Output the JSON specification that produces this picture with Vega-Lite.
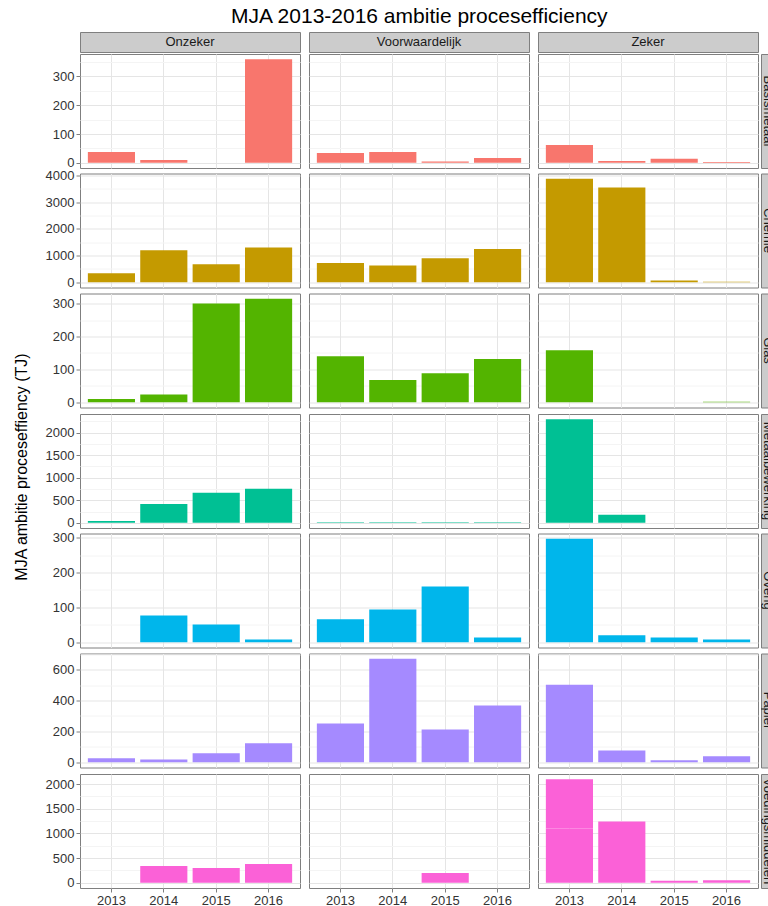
{
  "$schema": "https://vega.github.io/schema/vega-lite/v6.json",
  "padding": {"left": 14, "top": 5, "right": 0, "bottom": 0},
  "title": {"text": "MJA 2013-2016 ambitie procesefficiency", "fontSize": 21, "font": "Liberation Sans", "fontWeight": "normal", "anchor": "middle", "offset": 5, "dx": 28, "color": "#000000"},
  "data": {"values": [
    {"Sector": "Basismetaal", "Status": "Onzeker", "Year": "2013", "TJ": 38},
    {"Sector": "Basismetaal", "Status": "Onzeker", "Year": "2014", "TJ": 10},
    {"Sector": "Basismetaal", "Status": "Onzeker", "Year": "2015", "TJ": 0},
    {"Sector": "Basismetaal", "Status": "Onzeker", "Year": "2016", "TJ": 360},
    {"Sector": "Basismetaal", "Status": "Voorwaardelijk", "Year": "2013", "TJ": 34},
    {"Sector": "Basismetaal", "Status": "Voorwaardelijk", "Year": "2014", "TJ": 38},
    {"Sector": "Basismetaal", "Status": "Voorwaardelijk", "Year": "2015", "TJ": 5},
    {"Sector": "Basismetaal", "Status": "Voorwaardelijk", "Year": "2016", "TJ": 17},
    {"Sector": "Basismetaal", "Status": "Zeker", "Year": "2013", "TJ": 62},
    {"Sector": "Basismetaal", "Status": "Zeker", "Year": "2014", "TJ": 6},
    {"Sector": "Basismetaal", "Status": "Zeker", "Year": "2015", "TJ": 14},
    {"Sector": "Basismetaal", "Status": "Zeker", "Year": "2016", "TJ": 3},
    {"Sector": "Chemie", "Status": "Onzeker", "Year": "2013", "TJ": 340},
    {"Sector": "Chemie", "Status": "Onzeker", "Year": "2014", "TJ": 1200},
    {"Sector": "Chemie", "Status": "Onzeker", "Year": "2015", "TJ": 680},
    {"Sector": "Chemie", "Status": "Onzeker", "Year": "2016", "TJ": 1300},
    {"Sector": "Chemie", "Status": "Voorwaardelijk", "Year": "2013", "TJ": 720},
    {"Sector": "Chemie", "Status": "Voorwaardelijk", "Year": "2014", "TJ": 630},
    {"Sector": "Chemie", "Status": "Voorwaardelijk", "Year": "2015", "TJ": 900},
    {"Sector": "Chemie", "Status": "Voorwaardelijk", "Year": "2016", "TJ": 1250},
    {"Sector": "Chemie", "Status": "Zeker", "Year": "2013", "TJ": 3880},
    {"Sector": "Chemie", "Status": "Zeker", "Year": "2014", "TJ": 3550},
    {"Sector": "Chemie", "Status": "Zeker", "Year": "2015", "TJ": 70},
    {"Sector": "Chemie", "Status": "Zeker", "Year": "2016", "TJ": 20},
    {"Sector": "Glas", "Status": "Onzeker", "Year": "2013", "TJ": 10},
    {"Sector": "Glas", "Status": "Onzeker", "Year": "2014", "TJ": 24},
    {"Sector": "Glas", "Status": "Onzeker", "Year": "2015", "TJ": 300},
    {"Sector": "Glas", "Status": "Onzeker", "Year": "2016", "TJ": 315},
    {"Sector": "Glas", "Status": "Voorwaardelijk", "Year": "2013", "TJ": 140},
    {"Sector": "Glas", "Status": "Voorwaardelijk", "Year": "2014", "TJ": 68},
    {"Sector": "Glas", "Status": "Voorwaardelijk", "Year": "2015", "TJ": 88},
    {"Sector": "Glas", "Status": "Voorwaardelijk", "Year": "2016", "TJ": 132},
    {"Sector": "Glas", "Status": "Zeker", "Year": "2013", "TJ": 158},
    {"Sector": "Glas", "Status": "Zeker", "Year": "2014", "TJ": 0},
    {"Sector": "Glas", "Status": "Zeker", "Year": "2015", "TJ": 0},
    {"Sector": "Glas", "Status": "Zeker", "Year": "2016", "TJ": 2},
    {"Sector": "Metaalbewerking", "Status": "Onzeker", "Year": "2013", "TJ": 40},
    {"Sector": "Metaalbewerking", "Status": "Onzeker", "Year": "2014", "TJ": 420},
    {"Sector": "Metaalbewerking", "Status": "Onzeker", "Year": "2015", "TJ": 667},
    {"Sector": "Metaalbewerking", "Status": "Onzeker", "Year": "2016", "TJ": 755},
    {"Sector": "Metaalbewerking", "Status": "Voorwaardelijk", "Year": "2013", "TJ": 10},
    {"Sector": "Metaalbewerking", "Status": "Voorwaardelijk", "Year": "2014", "TJ": 15},
    {"Sector": "Metaalbewerking", "Status": "Voorwaardelijk", "Year": "2015", "TJ": 10},
    {"Sector": "Metaalbewerking", "Status": "Voorwaardelijk", "Year": "2016", "TJ": 15},
    {"Sector": "Metaalbewerking", "Status": "Zeker", "Year": "2013", "TJ": 2300},
    {"Sector": "Metaalbewerking", "Status": "Zeker", "Year": "2014", "TJ": 180},
    {"Sector": "Metaalbewerking", "Status": "Zeker", "Year": "2015", "TJ": 0},
    {"Sector": "Metaalbewerking", "Status": "Zeker", "Year": "2016", "TJ": 0},
    {"Sector": "Overig", "Status": "Onzeker", "Year": "2013", "TJ": 0},
    {"Sector": "Overig", "Status": "Onzeker", "Year": "2014", "TJ": 77},
    {"Sector": "Overig", "Status": "Onzeker", "Year": "2015", "TJ": 51},
    {"Sector": "Overig", "Status": "Onzeker", "Year": "2016", "TJ": 8},
    {"Sector": "Overig", "Status": "Voorwaardelijk", "Year": "2013", "TJ": 66},
    {"Sector": "Overig", "Status": "Voorwaardelijk", "Year": "2014", "TJ": 94},
    {"Sector": "Overig", "Status": "Voorwaardelijk", "Year": "2015", "TJ": 160},
    {"Sector": "Overig", "Status": "Voorwaardelijk", "Year": "2016", "TJ": 14},
    {"Sector": "Overig", "Status": "Zeker", "Year": "2013", "TJ": 297},
    {"Sector": "Overig", "Status": "Zeker", "Year": "2014", "TJ": 20},
    {"Sector": "Overig", "Status": "Zeker", "Year": "2015", "TJ": 14},
    {"Sector": "Overig", "Status": "Zeker", "Year": "2016", "TJ": 8},
    {"Sector": "Papier", "Status": "Onzeker", "Year": "2013", "TJ": 26},
    {"Sector": "Papier", "Status": "Onzeker", "Year": "2014", "TJ": 19},
    {"Sector": "Papier", "Status": "Onzeker", "Year": "2015", "TJ": 58},
    {"Sector": "Papier", "Status": "Onzeker", "Year": "2016", "TJ": 123},
    {"Sector": "Papier", "Status": "Voorwaardelijk", "Year": "2013", "TJ": 252},
    {"Sector": "Papier", "Status": "Voorwaardelijk", "Year": "2014", "TJ": 671},
    {"Sector": "Papier", "Status": "Voorwaardelijk", "Year": "2015", "TJ": 213},
    {"Sector": "Papier", "Status": "Voorwaardelijk", "Year": "2016", "TJ": 368},
    {"Sector": "Papier", "Status": "Zeker", "Year": "2013", "TJ": 503},
    {"Sector": "Papier", "Status": "Zeker", "Year": "2014", "TJ": 77},
    {"Sector": "Papier", "Status": "Zeker", "Year": "2015", "TJ": 13},
    {"Sector": "Papier", "Status": "Zeker", "Year": "2016", "TJ": 39},
    {"Sector": "Voedingsmiddelen", "Status": "Onzeker", "Year": "2013", "TJ": 0},
    {"Sector": "Voedingsmiddelen", "Status": "Onzeker", "Year": "2014", "TJ": 340},
    {"Sector": "Voedingsmiddelen", "Status": "Onzeker", "Year": "2015", "TJ": 300},
    {"Sector": "Voedingsmiddelen", "Status": "Onzeker", "Year": "2016", "TJ": 380},
    {"Sector": "Voedingsmiddelen", "Status": "Voorwaardelijk", "Year": "2013", "TJ": 0},
    {"Sector": "Voedingsmiddelen", "Status": "Voorwaardelijk", "Year": "2014", "TJ": 0},
    {"Sector": "Voedingsmiddelen", "Status": "Voorwaardelijk", "Year": "2015", "TJ": 200},
    {"Sector": "Voedingsmiddelen", "Status": "Voorwaardelijk", "Year": "2016", "TJ": 0},
    {"Sector": "Voedingsmiddelen", "Status": "Zeker", "Year": "2013", "TJ": 1100},
    {"Sector": "Voedingsmiddelen", "Status": "Zeker", "Year": "2013", "TJ": 1000},
    {"Sector": "Voedingsmiddelen", "Status": "Zeker", "Year": "2014", "TJ": 1240},
    {"Sector": "Voedingsmiddelen", "Status": "Zeker", "Year": "2015", "TJ": 40},
    {"Sector": "Voedingsmiddelen", "Status": "Zeker", "Year": "2016", "TJ": 50}
  ]},
  "spacing": 14,
  "hconcat": [
    {"data": {"values": [{"t": "MJA ambitie proceseffiency (TJ)"}]}, "width": 16, "height": 870, "view": {"stroke": null}, "mark": {"type": "text", "angle": 270, "fontSize": 16, "color": "#000000"}, "encoding": {"text": {"field": "t", "type": "nominal"}}},
    {
  "spacing": 2.5,
  "vconcat": [
    {
      "spacing": -2.5,
      "vconcat": [
        {
          "spacing": 0,
          "vconcat": [
            {
              "spacing": 1,
              "hconcat": [
                {
                  "spacing": 7,
                  "hconcat": [
                    {"data": {"values": [{"Status": "Onzeker"}]}, "width": 220, "height": 20, "view": {"fill": "#CCCCCC", "stroke": "#7F7F7F"}, "mark": {"type": "text", "fontSize": 13, "color": "#1A1A1A"}, "encoding": {"text": {"field": "Status", "type": "nominal"}}},
                    {"data": {"values": [{"Status": "Voorwaardelijk"}]}, "width": 220, "height": 20, "view": {"fill": "#CCCCCC", "stroke": "#7F7F7F"}, "mark": {"type": "text", "fontSize": 13, "color": "#1A1A1A"}, "encoding": {"text": {"field": "Status", "type": "nominal"}}},
                    {"data": {"values": [{"Status": "Zeker"}]}, "width": 220, "height": 20, "view": {"fill": "#CCCCCC", "stroke": "#7F7F7F"}, "mark": {"type": "text", "fontSize": 13, "color": "#1A1A1A"}, "encoding": {"text": {"field": "Status", "type": "nominal"}}}
                  ]
                },
                {"data": {"values": [{"Status": ""}]}, "width": 7, "height": 20, "view": {"stroke": null}, "mark": {"type": "text"}, "encoding": {"text": {"field": "Status", "type": "nominal"}}}
              ]
            },
            {
              "spacing": 1,
              "transform": [{"filter": "datum.Sector === 'Basismetaal'"}],
              "hconcat": [
                {
                  "spacing": 7,
                  "hconcat": [
                    {"transform": [{"filter": "datum.Status === 'Onzeker'"}], "width": 220, "height": 114, "mark": {"type": "bar", "color": "#F8766D"},
                     "encoding": {"x": {"field": "Year", "type": "ordinal", "axis": {"title": null, "labels": false, "ticks": false}},
                       "y": {"field": "TJ", "type": "quantitative", "scale": {"domain": [-18, 378], "nice": false, "zero": false}, "axis": {"title": null, "values": [0, 50, 100, 150, 200, 250, 300, 350], "labelExpr": "datum.value % 100 === 0 ? datum.label : ''", "tickOpacity": {"condition": {"test": "datum.value % 100 === 0", "value": 1}, "value": 0}, "gridColor": {"condition": {"test": "datum.value % 100 === 0", "value": "#E5E5E5"}, "value": "#F4F4F4"}}}}},
                    {"transform": [{"filter": "datum.Status === 'Voorwaardelijk'"}], "width": 220, "height": 114, "mark": {"type": "bar", "color": "#F8766D"},
                     "encoding": {"x": {"field": "Year", "type": "ordinal", "axis": {"title": null, "labels": false, "ticks": false}},
                       "y": {"field": "TJ", "type": "quantitative", "scale": {"domain": [-18, 378], "nice": false, "zero": false}, "axis": {"title": null, "labels": false, "ticks": false, "minExtent": 0, "values": [0, 50, 100, 150, 200, 250, 300, 350], "gridColor": {"condition": {"test": "datum.value % 100 === 0", "value": "#E5E5E5"}, "value": "#F4F4F4"}}}}},
                    {"transform": [{"filter": "datum.Status === 'Zeker'"}], "width": 220, "height": 114, "mark": {"type": "bar", "color": "#F8766D"},
                     "encoding": {"x": {"field": "Year", "type": "ordinal", "axis": {"title": null, "labels": false, "ticks": false}},
                       "y": {"field": "TJ", "type": "quantitative", "scale": {"domain": [-18, 378], "nice": false, "zero": false}, "axis": {"title": null, "labels": false, "ticks": false, "minExtent": 0, "values": [0, 50, 100, 150, 200, 250, 300, 350], "gridColor": {"condition": {"test": "datum.value % 100 === 0", "value": "#E5E5E5"}, "value": "#F4F4F4"}}}}}
                  ]
                },
                {"data": {"values": [{"Sector": "Basismetaal"}]}, "width": 7, "height": 114, "view": {"fill": "#CCCCCC", "stroke": "#7F7F7F"}, "mark": {"type": "text", "angle": 90, "fontSize": 13, "clip": true, "dy": -3.5, "color": "#1A1A1A"}, "encoding": {"text": {"field": "Sector", "type": "nominal"}}}
              ]
            }
          ]
        },
        {
          "spacing": 1,
          "transform": [{"filter": "datum.Sector === 'Chemie'"}],
          "hconcat": [
            {
              "spacing": 7,
              "hconcat": [
                {"transform": [{"filter": "datum.Status === 'Onzeker'"}], "width": 220, "height": 114, "mark": {"type": "bar", "color": "#C49A00"},
                 "encoding": {"x": {"field": "Year", "type": "ordinal", "axis": {"title": null, "labels": false, "ticks": false}},
                   "y": {"field": "TJ", "type": "quantitative", "scale": {"domain": [-194, 4074], "nice": false, "zero": false}, "axis": {"title": null, "values": [0, 500, 1000, 1500, 2000, 2500, 3000, 3500, 4000], "labelExpr": "datum.value % 1000 === 0 ? datum.label : ''", "tickOpacity": {"condition": {"test": "datum.value % 1000 === 0", "value": 1}, "value": 0}, "gridColor": {"condition": {"test": "datum.value % 1000 === 0", "value": "#E5E5E5"}, "value": "#F4F4F4"}}}}},
                {"transform": [{"filter": "datum.Status === 'Voorwaardelijk'"}], "width": 220, "height": 114, "mark": {"type": "bar", "color": "#C49A00"},
                 "encoding": {"x": {"field": "Year", "type": "ordinal", "axis": {"title": null, "labels": false, "ticks": false}},
                   "y": {"field": "TJ", "type": "quantitative", "scale": {"domain": [-194, 4074], "nice": false, "zero": false}, "axis": {"title": null, "labels": false, "ticks": false, "minExtent": 0, "values": [0, 500, 1000, 1500, 2000, 2500, 3000, 3500, 4000], "gridColor": {"condition": {"test": "datum.value % 1000 === 0", "value": "#E5E5E5"}, "value": "#F4F4F4"}}}}},
                {"transform": [{"filter": "datum.Status === 'Zeker'"}], "width": 220, "height": 114, "mark": {"type": "bar", "color": "#C49A00"},
                 "encoding": {"x": {"field": "Year", "type": "ordinal", "axis": {"title": null, "labels": false, "ticks": false}},
                   "y": {"field": "TJ", "type": "quantitative", "scale": {"domain": [-194, 4074], "nice": false, "zero": false}, "axis": {"title": null, "labels": false, "ticks": false, "minExtent": 0, "values": [0, 500, 1000, 1500, 2000, 2500, 3000, 3500, 4000], "gridColor": {"condition": {"test": "datum.value % 1000 === 0", "value": "#E5E5E5"}, "value": "#F4F4F4"}}}}}
              ]
            },
            {"data": {"values": [{"Sector": "Chemie"}]}, "width": 7, "height": 114, "view": {"fill": "#CCCCCC", "stroke": "#7F7F7F"}, "mark": {"type": "text", "angle": 90, "fontSize": 13, "clip": true, "dy": -3.5, "color": "#1A1A1A"}, "encoding": {"text": {"field": "Sector", "type": "nominal"}}}
          ]
        }
      ]
    },
    {
      "spacing": 1,
      "transform": [{"filter": "datum.Sector === 'Glas'"}],
      "hconcat": [
        {
          "spacing": 7,
          "hconcat": [
            {"transform": [{"filter": "datum.Status === 'Onzeker'"}], "width": 220, "height": 114, "mark": {"type": "bar", "color": "#53B400"},
             "encoding": {"x": {"field": "Year", "type": "ordinal", "axis": {"title": null, "labels": false, "ticks": false}},
               "y": {"field": "TJ", "type": "quantitative", "scale": {"domain": [-15.75, 330.75], "nice": false, "zero": false}, "axis": {"title": null, "values": [0, 50, 100, 150, 200, 250, 300], "labelExpr": "datum.value % 100 === 0 ? datum.label : ''", "tickOpacity": {"condition": {"test": "datum.value % 100 === 0", "value": 1}, "value": 0}, "gridColor": {"condition": {"test": "datum.value % 100 === 0", "value": "#E5E5E5"}, "value": "#F4F4F4"}}}}},
            {"transform": [{"filter": "datum.Status === 'Voorwaardelijk'"}], "width": 220, "height": 114, "mark": {"type": "bar", "color": "#53B400"},
             "encoding": {"x": {"field": "Year", "type": "ordinal", "axis": {"title": null, "labels": false, "ticks": false}},
               "y": {"field": "TJ", "type": "quantitative", "scale": {"domain": [-15.75, 330.75], "nice": false, "zero": false}, "axis": {"title": null, "labels": false, "ticks": false, "minExtent": 0, "values": [0, 50, 100, 150, 200, 250, 300], "gridColor": {"condition": {"test": "datum.value % 100 === 0", "value": "#E5E5E5"}, "value": "#F4F4F4"}}}}},
            {"transform": [{"filter": "datum.Status === 'Zeker'"}], "width": 220, "height": 114, "mark": {"type": "bar", "color": "#53B400"},
             "encoding": {"x": {"field": "Year", "type": "ordinal", "axis": {"title": null, "labels": false, "ticks": false}},
               "y": {"field": "TJ", "type": "quantitative", "scale": {"domain": [-15.75, 330.75], "nice": false, "zero": false}, "axis": {"title": null, "labels": false, "ticks": false, "minExtent": 0, "values": [0, 50, 100, 150, 200, 250, 300], "gridColor": {"condition": {"test": "datum.value % 100 === 0", "value": "#E5E5E5"}, "value": "#F4F4F4"}}}}}
          ]
        },
        {"data": {"values": [{"Sector": "Glas"}]}, "width": 7, "height": 114, "view": {"fill": "#CCCCCC", "stroke": "#7F7F7F"}, "mark": {"type": "text", "angle": 90, "fontSize": 13, "clip": true, "dy": -3.5, "color": "#1A1A1A"}, "encoding": {"text": {"field": "Sector", "type": "nominal"}}}
      ]
    },
    {
      "spacing": -0.5,
      "vconcat": [
        {
          "spacing": 1,
          "transform": [{"filter": "datum.Sector === 'Metaalbewerking'"}],
          "hconcat": [
            {
              "spacing": 7,
              "hconcat": [
                {"transform": [{"filter": "datum.Status === 'Onzeker'"}], "width": 220, "height": 114, "mark": {"type": "bar", "color": "#00C094"},
                 "encoding": {"x": {"field": "Year", "type": "ordinal", "axis": {"title": null, "labels": false, "ticks": false}},
                   "y": {"field": "TJ", "type": "quantitative", "scale": {"domain": [-115, 2415], "nice": false, "zero": false}, "axis": {"title": null, "values": [0, 250, 500, 750, 1000, 1250, 1500, 1750, 2000, 2250], "labelExpr": "datum.value % 500 === 0 ? datum.label : ''", "tickOpacity": {"condition": {"test": "datum.value % 500 === 0", "value": 1}, "value": 0}, "gridColor": {"condition": {"test": "datum.value % 500 === 0", "value": "#E5E5E5"}, "value": "#F4F4F4"}}}}},
                {"transform": [{"filter": "datum.Status === 'Voorwaardelijk'"}], "width": 220, "height": 114, "mark": {"type": "bar", "color": "#00C094"},
                 "encoding": {"x": {"field": "Year", "type": "ordinal", "axis": {"title": null, "labels": false, "ticks": false}},
                   "y": {"field": "TJ", "type": "quantitative", "scale": {"domain": [-115, 2415], "nice": false, "zero": false}, "axis": {"title": null, "labels": false, "ticks": false, "minExtent": 0, "values": [0, 250, 500, 750, 1000, 1250, 1500, 1750, 2000, 2250], "gridColor": {"condition": {"test": "datum.value % 500 === 0", "value": "#E5E5E5"}, "value": "#F4F4F4"}}}}},
                {"transform": [{"filter": "datum.Status === 'Zeker'"}], "width": 220, "height": 114, "mark": {"type": "bar", "color": "#00C094"},
                 "encoding": {"x": {"field": "Year", "type": "ordinal", "axis": {"title": null, "labels": false, "ticks": false}},
                   "y": {"field": "TJ", "type": "quantitative", "scale": {"domain": [-115, 2415], "nice": false, "zero": false}, "axis": {"title": null, "labels": false, "ticks": false, "minExtent": 0, "values": [0, 250, 500, 750, 1000, 1250, 1500, 1750, 2000, 2250], "gridColor": {"condition": {"test": "datum.value % 500 === 0", "value": "#E5E5E5"}, "value": "#F4F4F4"}}}}}
              ]
            },
            {"data": {"values": [{"Sector": "Metaalbewerking"}]}, "width": 7, "height": 114, "view": {"fill": "#CCCCCC", "stroke": "#7F7F7F"}, "mark": {"type": "text", "angle": 90, "fontSize": 13, "clip": true, "dy": -3.5, "color": "#1A1A1A"}, "encoding": {"text": {"field": "Sector", "type": "nominal"}}}
          ]
        },
        {
          "spacing": 1,
          "transform": [{"filter": "datum.Sector === 'Overig'"}],
          "hconcat": [
            {
              "spacing": 7,
              "hconcat": [
                {"transform": [{"filter": "datum.Status === 'Onzeker'"}], "width": 220, "height": 114, "mark": {"type": "bar", "color": "#00B6EB"},
                 "encoding": {"x": {"field": "Year", "type": "ordinal", "axis": {"title": null, "labels": false, "ticks": false}},
                   "y": {"field": "TJ", "type": "quantitative", "scale": {"domain": [-14.85, 311.85], "nice": false, "zero": false}, "axis": {"title": null, "values": [0, 50, 100, 150, 200, 250, 300], "labelExpr": "datum.value % 100 === 0 ? datum.label : ''", "tickOpacity": {"condition": {"test": "datum.value % 100 === 0", "value": 1}, "value": 0}, "gridColor": {"condition": {"test": "datum.value % 100 === 0", "value": "#E5E5E5"}, "value": "#F4F4F4"}}}}},
                {"transform": [{"filter": "datum.Status === 'Voorwaardelijk'"}], "width": 220, "height": 114, "mark": {"type": "bar", "color": "#00B6EB"},
                 "encoding": {"x": {"field": "Year", "type": "ordinal", "axis": {"title": null, "labels": false, "ticks": false}},
                   "y": {"field": "TJ", "type": "quantitative", "scale": {"domain": [-14.85, 311.85], "nice": false, "zero": false}, "axis": {"title": null, "labels": false, "ticks": false, "minExtent": 0, "values": [0, 50, 100, 150, 200, 250, 300], "gridColor": {"condition": {"test": "datum.value % 100 === 0", "value": "#E5E5E5"}, "value": "#F4F4F4"}}}}},
                {"transform": [{"filter": "datum.Status === 'Zeker'"}], "width": 220, "height": 114, "mark": {"type": "bar", "color": "#00B6EB"},
                 "encoding": {"x": {"field": "Year", "type": "ordinal", "axis": {"title": null, "labels": false, "ticks": false}},
                   "y": {"field": "TJ", "type": "quantitative", "scale": {"domain": [-14.85, 311.85], "nice": false, "zero": false}, "axis": {"title": null, "labels": false, "ticks": false, "minExtent": 0, "values": [0, 50, 100, 150, 200, 250, 300], "gridColor": {"condition": {"test": "datum.value % 100 === 0", "value": "#E5E5E5"}, "value": "#F4F4F4"}}}}}
              ]
            },
            {"data": {"values": [{"Sector": "Overig"}]}, "width": 7, "height": 114, "view": {"fill": "#CCCCCC", "stroke": "#7F7F7F"}, "mark": {"type": "text", "angle": 90, "fontSize": 13, "clip": true, "dy": -3.5, "color": "#1A1A1A"}, "encoding": {"text": {"field": "Sector", "type": "nominal"}}}
          ]
        }
      ]
    },
    {
      "spacing": 1,
      "transform": [{"filter": "datum.Sector === 'Papier'"}],
      "hconcat": [
        {
          "spacing": 7,
          "hconcat": [
            {"transform": [{"filter": "datum.Status === 'Onzeker'"}], "width": 220, "height": 114, "mark": {"type": "bar", "color": "#A58AFF"},
             "encoding": {"x": {"field": "Year", "type": "ordinal", "axis": {"title": null, "labels": false, "ticks": false}},
               "y": {"field": "TJ", "type": "quantitative", "scale": {"domain": [-33.55, 704.55], "nice": false, "zero": false}, "axis": {"title": null, "values": [0, 100, 200, 300, 400, 500, 600, 700], "labelExpr": "datum.value % 200 === 0 ? datum.label : ''", "tickOpacity": {"condition": {"test": "datum.value % 200 === 0", "value": 1}, "value": 0}, "gridColor": {"condition": {"test": "datum.value % 200 === 0", "value": "#E5E5E5"}, "value": "#F4F4F4"}}}}},
            {"transform": [{"filter": "datum.Status === 'Voorwaardelijk'"}], "width": 220, "height": 114, "mark": {"type": "bar", "color": "#A58AFF"},
             "encoding": {"x": {"field": "Year", "type": "ordinal", "axis": {"title": null, "labels": false, "ticks": false}},
               "y": {"field": "TJ", "type": "quantitative", "scale": {"domain": [-33.55, 704.55], "nice": false, "zero": false}, "axis": {"title": null, "labels": false, "ticks": false, "minExtent": 0, "values": [0, 100, 200, 300, 400, 500, 600, 700], "gridColor": {"condition": {"test": "datum.value % 200 === 0", "value": "#E5E5E5"}, "value": "#F4F4F4"}}}}},
            {"transform": [{"filter": "datum.Status === 'Zeker'"}], "width": 220, "height": 114, "mark": {"type": "bar", "color": "#A58AFF"},
             "encoding": {"x": {"field": "Year", "type": "ordinal", "axis": {"title": null, "labels": false, "ticks": false}},
               "y": {"field": "TJ", "type": "quantitative", "scale": {"domain": [-33.55, 704.55], "nice": false, "zero": false}, "axis": {"title": null, "labels": false, "ticks": false, "minExtent": 0, "values": [0, 100, 200, 300, 400, 500, 600, 700], "gridColor": {"condition": {"test": "datum.value % 200 === 0", "value": "#E5E5E5"}, "value": "#F4F4F4"}}}}}
          ]
        },
        {"data": {"values": [{"Sector": "Papier"}]}, "width": 7, "height": 114, "view": {"fill": "#CCCCCC", "stroke": "#7F7F7F"}, "mark": {"type": "text", "angle": 90, "fontSize": 13, "clip": true, "dy": -3.5, "color": "#1A1A1A"}, "encoding": {"text": {"field": "Sector", "type": "nominal"}}}
      ]
    },
    {
      "spacing": 1,
      "transform": [{"filter": "datum.Sector === 'Voedingsmiddelen'"}],
      "hconcat": [
        {
          "spacing": 7,
          "hconcat": [
            {"transform": [{"filter": "datum.Status === 'Onzeker'"}], "width": 220, "height": 114, "mark": {"type": "bar", "color": "#FB61D7"},
             "encoding": {"x": {"field": "Year", "type": "ordinal", "axis": {"title": null}},
               "y": {"field": "TJ", "type": "quantitative", "scale": {"domain": [-105, 2205], "nice": false, "zero": false}, "axis": {"title": null, "values": [0, 250, 500, 750, 1000, 1250, 1500, 1750, 2000], "labelExpr": "datum.value % 500 === 0 ? datum.label : ''", "tickOpacity": {"condition": {"test": "datum.value % 500 === 0", "value": 1}, "value": 0}, "gridColor": {"condition": {"test": "datum.value % 500 === 0", "value": "#E5E5E5"}, "value": "#F4F4F4"}}}}},
            {"transform": [{"filter": "datum.Status === 'Voorwaardelijk'"}], "width": 220, "height": 114, "mark": {"type": "bar", "color": "#FB61D7"},
             "encoding": {"x": {"field": "Year", "type": "ordinal", "axis": {"title": null}},
               "y": {"field": "TJ", "type": "quantitative", "scale": {"domain": [-105, 2205], "nice": false, "zero": false}, "axis": {"title": null, "labels": false, "ticks": false, "minExtent": 0, "values": [0, 250, 500, 750, 1000, 1250, 1500, 1750, 2000], "gridColor": {"condition": {"test": "datum.value % 500 === 0", "value": "#E5E5E5"}, "value": "#F4F4F4"}}}}},
            {"transform": [{"filter": "datum.Status === 'Zeker'"}], "width": 220, "height": 114, "mark": {"type": "bar", "color": "#FB61D7"},
             "encoding": {"x": {"field": "Year", "type": "ordinal", "axis": {"title": null}},
               "y": {"field": "TJ", "type": "quantitative", "scale": {"domain": [-105, 2205], "nice": false, "zero": false}, "axis": {"title": null, "labels": false, "ticks": false, "minExtent": 0, "values": [0, 250, 500, 750, 1000, 1250, 1500, 1750, 2000], "gridColor": {"condition": {"test": "datum.value % 500 === 0", "value": "#E5E5E5"}, "value": "#F4F4F4"}}}}}
          ]
        },
        {"data": {"values": [{"Sector": "Voedingsmiddelen"}]}, "width": 7, "height": 114, "view": {"fill": "#CCCCCC", "stroke": "#7F7F7F"}, "mark": {"type": "text", "angle": 90, "fontSize": 13, "clip": true, "dy": -3.5, "color": "#1A1A1A"}, "encoding": {"text": {"field": "Sector", "type": "nominal"}}}
      ]
    }
  ]
    }
  ],
  "config": {
    "font": "Liberation Sans",
    "numberFormat": "d",
    "view": {"stroke": "#7F7F7F"},
    "scale": {"bandPaddingInner": 0.1, "bandPaddingOuter": 0.15},
    "axis": {"domain": false, "grid": true, "tickColor": "#7F7F7F", "tickSize": 4, "labelFontSize": 13, "labelColor": "#333333", "labelPadding": 2, "labelFont": "Liberation Sans", "titleFont": "Liberation Sans"},
    "axisX": {"bandPosition": 0.5, "gridColor": "#E5E5E5", "labelAngle": 0}
  }
}
